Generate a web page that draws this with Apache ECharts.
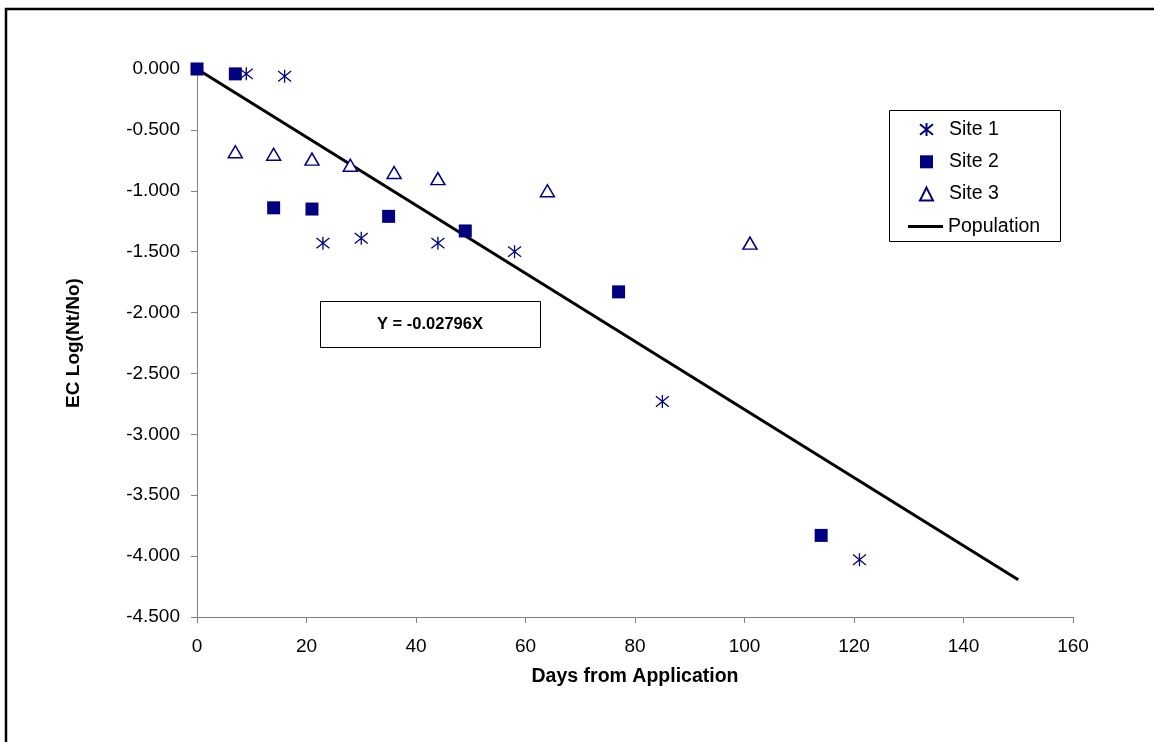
<!DOCTYPE html>
<html>
<head>
<meta charset="utf-8">
<script src="https://cdn.jsdelivr.net/npm/echarts@6/dist/echarts.min.js"></script>
<style>
html,body{margin:0;padding:0;background:#fff;}
#c{width:1154px;height:742px;}
</style>
</head>
<body>
<div id="c"></div>
<script>
// Data
var site1X = [9, 16, 23, 30, 44, 58, 85, 121];
var site1Y = [-0.04, -0.06, -1.43, -1.39, -1.43, -1.50, -2.73, -4.03];
var site2X = [0, 7, 14, 21, 35, 49, 77, 114];
var site2Y = [0.00, -0.04, -1.14, -1.15, -1.21, -1.33, -1.83, -3.83];
var site3X = [7, 14, 21, 28, 36, 44, 64, 101];
var site3Y = [-0.68, -0.70, -0.74, -0.79, -0.85, -0.90, -1.00, -1.43];
var popX = [0, 150];
var popY = [0, -4.194];
var seriesNames = ['Site 1', 'Site 2', 'Site 3', 'Population'];
var equationText = 'Y = -0.02796X';
var xTitle = 'Days from Application';
var yTitle = 'EC Log(Nt/No)';

function pairs(xs, ys) { return xs.map(function (x, i) { return [x, ys[i]]; }); }

var NAVY = '#000080';
var FONT = 'Liberation Sans, Arial, sans-serif';
var ASTERISK = 'path://M0,1L10,9M10,1L0,9M5,0L5,10';
var LEG_TEXT = { fontFamily: FONT, fontSize: 19.5, color: '#000', lineHeight: 20 };

var chart = echarts.init(document.getElementById('c'));
chart.setOption({
  animation: false,
  backgroundColor: '#fff',
  grid: { left: 197, top: 69, width: 876, height: 548, containLabel: false },
  xAxis: {
    type: 'value', min: 0, max: 160, interval: 20,
    name: xTitle, nameLocation: 'middle', nameGap: 50,
    nameTextStyle: { fontFamily: FONT, fontSize: 19.5, fontWeight: 'bold', color: '#000' },
    axisLine: { show: true, onZero: false, lineStyle: { color: '#808080', width: 1 } },
    axisTick: { show: true, length: 6, lineStyle: { color: '#808080' } },
    axisLabel: { margin: 20, fontFamily: FONT, fontSize: 19, color: '#000' },
    splitLine: { show: false }
  },
  yAxis: {
    type: 'value', min: -4.5, max: 0, interval: 0.5,
    name: yTitle, nameLocation: 'middle', nameGap: 114,
    nameTextStyle: { fontFamily: FONT, fontSize: 19, fontWeight: 'bold', color: '#000' },
    axisLine: { show: true, onZero: false, lineStyle: { color: '#808080', width: 1 } },
    axisTick: { show: true, length: 6, lineStyle: { color: '#808080' } },
    axisLabel: { margin: 17, fontFamily: FONT, fontSize: 19, color: '#000',
      formatter: function (v) { return v.toFixed(3); } },
    splitLine: { show: false }
  },
  legend: [
    {
      orient: 'vertical', left: 919, top: 119.5, padding: 0,
      itemWidth: 13, itemHeight: 13, itemGap: 12.3,
      data: seriesNames.slice(0, 3),
      textStyle: Object.assign({ padding: [0, 0, 0, 11] }, LEG_TEXT)
    },
    {
      orient: 'vertical', left: 908, top: 216.5, padding: 0,
      itemWidth: 35, itemHeight: 3,
      data: [{ name: seriesNames[3], icon: 'rect' }],
      textStyle: LEG_TEXT
    }
  ],
  series: [
    {
      name: seriesNames[3], type: 'line', data: pairs(popX, popY),
      symbol: 'none', lineStyle: { color: '#000', width: 3 }, itemStyle: { color: '#000' }, z: 1
    },
    {
      name: seriesNames[0], type: 'scatter', data: pairs(site1X, site1Y),
      symbol: ASTERISK, symbolSize: 13,
      itemStyle: { color: NAVY, borderColor: NAVY, borderWidth: 1.3, opacity: 1 }, z: 3
    },
    {
      name: seriesNames[1], type: 'scatter', data: pairs(site2X, site2Y),
      symbol: 'rect', symbolSize: 13,
      itemStyle: { color: NAVY, opacity: 1 }, z: 3
    },
    {
      name: seriesNames[2], type: 'scatter', data: pairs(site3X, site3Y),
      symbol: 'triangle', symbolSize: [14, 12],
      itemStyle: { color: '#fff', borderColor: NAVY, borderWidth: 1.5, opacity: 1 }, z: 3
    }
  ],
  graphic: [
    { type: 'rect', shape: { x: 6, y: 9, width: 1170, height: 780 }, style: { fill: 'none', stroke: '#000', lineWidth: 2.5 }, silent: true },
    { type: 'rect', shape: { x: 889.5, y: 110.5, width: 171, height: 131 }, style: { fill: 'none', stroke: '#000', lineWidth: 1 }, silent: true, z: 10 },
    { type: 'rect', shape: { x: 320.5, y: 301.5, width: 220, height: 46 }, style: { fill: '#fff', stroke: '#000', lineWidth: 1 }, silent: true, z: 10 },
    { type: 'text', x: 430, y: 324, style: { text: equationText, fontFamily: FONT, fontSize: 16.5, fontWeight: 'bold', fill: '#000', align: 'center', verticalAlign: 'middle' }, silent: true, z: 11 }
  ]
});
</script>
</body>
</html>
